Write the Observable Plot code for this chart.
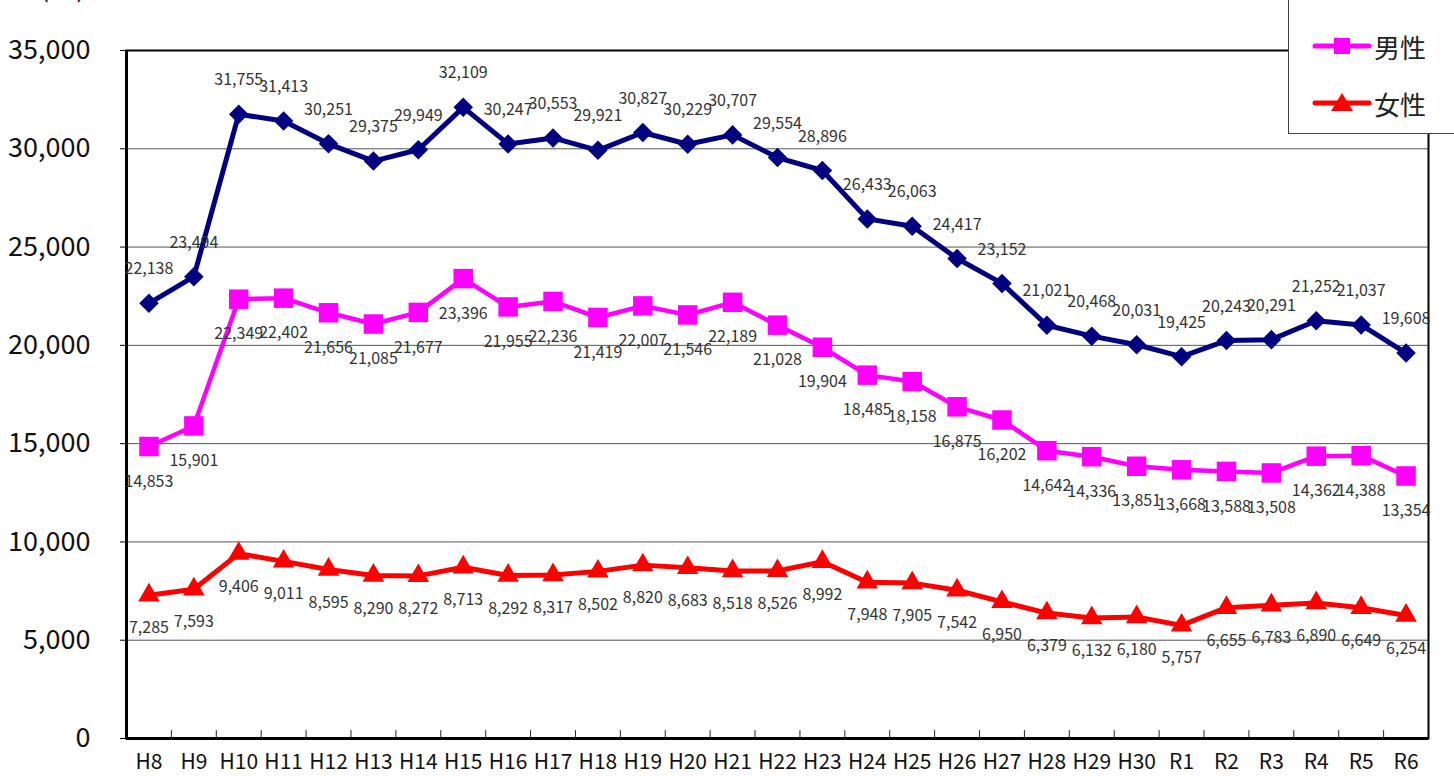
<!DOCTYPE html>
<html>
<head>
<meta charset="utf-8">
<script src="https://cdn.jsdelivr.net/npm/d3@7"></script>
<script src="https://cdn.jsdelivr.net/npm/@observablehq/plot@0.6"></script>
<style>
  html, body { margin: 0; padding: 0; background: #fff; }
  #wrap { position: relative; width: 1454px; height: 776px; overflow: hidden; font-family: "Noto Sans CJK JP", sans-serif; }
  #chart { position: absolute; left: 0; top: 0; }
  #unit { position: absolute; left: 40px; top: -31px; font-size: 27px; line-height: 34px; color: #222; }
  #legend { position: absolute; left: 1288px; top: -30px; width: 200px; height: 162px; border: 1px solid #404040; background: #fff; }
  .lg { position: absolute; left: 22px; height: 30px; display: flex; align-items: center; }
  .lg span { font-size: 26px; color: #222; margin-left: 1px; }
</style>
</head>
<body>
<div id="wrap">
  <div id="chart"></div>
  <div id="unit">(人)</div>
  <div id="legend">
    <div class="lg" style="top:60px;">
      <svg width="62" height="30"><line x1="4" y1="15" x2="58" y2="15" stroke="#FF00FF" stroke-width="5" stroke-linecap="round"/><rect x="23" y="7" width="16" height="16" fill="#FF00FF"/></svg>
      <span>男性</span>
    </div>
    <div class="lg" style="top:117px;">
      <svg width="62" height="30"><line x1="4" y1="15" x2="58" y2="15" stroke="#FF0000" stroke-width="5" stroke-linecap="round"/><polygon points="31,5 42,23 20,23" fill="#FF0000"/></svg>
      <span>女性</span>
    </div>
  </div>
</div>
<script>
const categories = ["H8","H9","H10","H11","H12","H13","H14","H15","H16","H17","H18","H19","H20","H21","H22","H23","H24","H25","H26","H27","H28","H29","H30","R1","R2","R3","R4","R5","R6"];
const totalValues = [22138,23494,31755,31413,30251,29375,29949,32109,30247,30553,29921,30827,30229,30707,29554,28896,26433,26063,24417,23152,21021,20468,20031,19425,20243,20291,21252,21037,19608];
const maleValues = [14853,15901,22349,22402,21656,21085,21677,23396,21955,22236,21419,22007,21546,22189,21028,19904,18485,18158,16875,16202,14642,14336,13851,13668,13588,13508,14362,14388,13354];
const femaleValues = [7285,7593,9406,9011,8595,8290,8272,8713,8292,8317,8502,8820,8683,8518,8526,8992,7948,7905,7542,6950,6379,6132,6180,5757,6655,6783,6890,6649,6254];
const yTicks = [0,5000,10000,15000,20000,25000,30000,35000];
const gridValues = [5000,10000,15000,20000,25000,30000];

const W = 1454, H = 776, mL = 126, mR = 26, mT = 50, mB = 38;
const step = (W - mL - mR) / categories.length;
const fmt = d3.format(",");

const rows = (vals) => categories.map((c, i) => ({cat: c, value: vals[i]}));
const total = rows(totalValues), male = rows(maleValues), female = rows(femaleValues);

const chart = Plot.plot({
  width: W, height: H,
  marginTop: mT, marginBottom: mB, marginLeft: mL, marginRight: mR,
  x: {type: "point", domain: categories, padding: 0.5, round: false},
  y: {domain: [0, 35000]},
  style: {fontFamily: "'Noto Sans CJK JP', sans-serif", background: "#fff", color: "#111", overflow: "visible"},
  marks: [
    Plot.ruleY(gridValues, {stroke: "#555", strokeWidth: 1}),
    Plot.ruleX(categories.slice(0, -1), {x: d => d, y1: 0, y2: 400, dx: step / 2, stroke: "#222", strokeWidth: 1}),
    Plot.frame({stroke: "#000", strokeWidth: 2}),
    Plot.ruleY([0], {stroke: "#000", strokeWidth: 3}),
    Plot.ruleX([categories[0]], {x: d => d, dx: -step / 2, stroke: "#000", strokeWidth: 3}),
    Plot.axisY({ticks: yTicks, tickFormat: fmt, fontSize: 27, tickSize: 6, tickPadding: 30, label: null, stroke: "#000"}),
    Plot.axisX({tickSize: 0, tickPadding: 16, fontSize: 21, label: null}),
    Plot.line(female, {x: "cat", y: "value", stroke: "#FF0000", strokeWidth: 5}),
    Plot.line(male, {x: "cat", y: "value", stroke: "#FF00FF", strokeWidth: 4.5}),
    Plot.line(total, {x: "cat", y: "value", stroke: "#000080", strokeWidth: 5}),
    Plot.dot(female, {x: "cat", y: "value", symbol: "triangle", r: 8, fill: "#FF0000"}),
    Plot.dot(male, {x: "cat", y: "value", symbol: "square", r: 11, fill: "#FF00FF"}),
    Plot.dot(total, {x: "cat", y: "value", symbol: "diamond2", r: 8.8, fill: "#000080"}),
    Plot.text(total, {x: "cat", y: "value", text: d => fmt(d.value), dy: -34, fill: "#333", fontSize: 16}),
    Plot.text(male, {x: "cat", y: "value", text: d => fmt(d.value), dy: 35, fill: "#333", fontSize: 16}),
    Plot.text(female, {x: "cat", y: "value", text: d => fmt(d.value), dy: 33, fill: "#333", fontSize: 16})
  ]
});
document.getElementById("chart").appendChild(chart);
</script>
</body>
</html>
